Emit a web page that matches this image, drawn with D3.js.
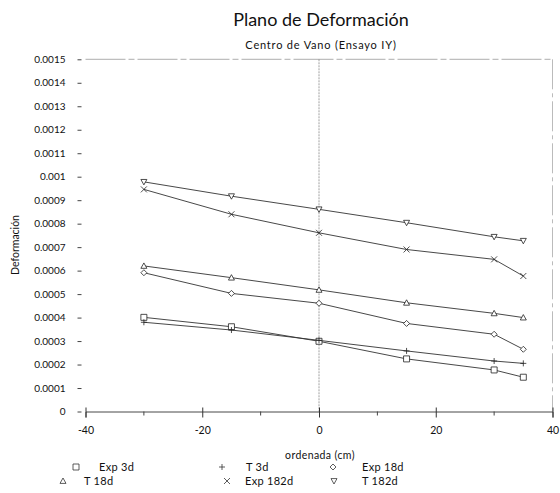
<!DOCTYPE html>
<html><head><meta charset="utf-8">
<script src="https://cdn.jsdelivr.net/npm/d3@7"></script>
<style>body{margin:0;background:#fff} text{font-family:Lato,"DejaVu Sans",sans-serif;fill:#111}</style>
</head><body>
<svg id="c" width="560" height="493"></svg>
<script>
// ---- data ----
const xValues = [-30, -15, 0, 15, 30, 35];
const seriesNames = ["Exp 3d", "T 3d", "Exp 18d", "T 18d", "Exp 182d", "T 182d"];
const exp3d   = [0.000401, 0.000361, 0.000299, 0.000224, 0.000177, 0.000146];
const t3d     = [0.000380, 0.000347, 0.000303, 0.000258, 0.000215, 0.000205];
const exp18d  = [0.000591, 0.000503, 0.000461, 0.000375, 0.000329, 0.000265];
const t18d    = [0.000620, 0.000570, 0.000518, 0.000463, 0.000418, 0.000400];
const exp182d = [0.000946, 0.000840, 0.000761, 0.000690, 0.000648, 0.000577];
const t182d   = [0.000978, 0.000917, 0.000861, 0.000804, 0.000744, 0.000727];
const markerTypes = ["square", "plus", "diamond", "triangle", "cross", "triangleDown"];
const yTicks = [0, 0.0001, 0.0002, 0.0003, 0.0004, 0.0005, 0.0006, 0.0007, 0.0008, 0.0009, 0.001, 0.0011, 0.0012, 0.0013, 0.0014, 0.0015];
const yTickLabels = ["0", "0.0001", "0.0002", "0.0003", "0.0004", "0.0005", "0.0006", "0.0007", "0.0008", "0.0009", "0.001", "0.0011", "0.0012", "0.0013", "0.0014", "0.0015"];
const xTicks = [-40, -20, 0, 20, 40];
const xTickLabels = ["-40", "-20", "0", "20", "40"];
const xMinorTicks = [-30, -10, 10, 30];
const title = "Plano de Deformación";
const subtitle = "Centro de Vano (Ensayo IY)";
const xLabel = "ordenada (cm)";
const yLabel = "Deformación";

const allSeries = [exp3d, t3d, exp18d, t18d, exp182d, t182d];

// ---- layout ----
const svg = d3.select("#c");
const x = d3.scaleLinear().domain([-40, 40]).range([85.5, 552.5]);
const y = d3.scaleLinear().domain([0, 0.0015]).range([411.5, 59.3]);

function marker(type, s) {
  const h = s / 2;
  switch (type) {
    case "square": return `M${-h},${-h}H${h}V${h}H${-h}Z`;
    case "plus": return `M${-h},0H${h}M0,${-h}V${h}`;
    case "diamond": return `M0,${-h}L${h},0L0,${h}L${-h},0Z`;
    case "triangle": return `M0,${-h}L${h},${h * 0.8}L${-h},${h * 0.8}Z`;
    case "triangleDown": return `M0,${h}L${h},${-h * 0.8}L${-h},${-h * 0.8}Z`;
    case "cross": return `M${-h},${-h}L${h},${h}M${-h},${h}L${h},${-h}`;
  }
}

// frame
svg.append("line").attr("x1", x(-40)).attr("x2", x(40)).attr("y1", y(0.0015)).attr("y2", y(0.0015))
  .attr("stroke", "#999").attr("stroke-width", 0.8).attr("stroke-dasharray", "40,3,6,3");
svg.append("line").attr("x1", x(40)).attr("x2", x(40)).attr("y1", y(0.0015)).attr("y2", y(0))
  .attr("stroke", "#aaa").attr("stroke-width", 0.8).attr("stroke-dasharray", "30,4,4,4");
svg.append("line").attr("x1", x(0)).attr("x2", x(0)).attr("y1", y(0.0015)).attr("y2", y(0))
  .attr("stroke", "#888").attr("stroke-width", 0.8).attr("stroke-dasharray", "2,1");

// x axis
const xAxis = d3.axisBottom(x).tickValues(xTicks).tickFormat((d, i) => xTickLabels[i]).tickSize(6).tickPadding(9);
const gx = svg.append("g").attr("transform", `translate(0,${y(0)})`).call(xAxis);
gx.select(".domain").attr("stroke", "#333").attr("stroke-width", 0.9);
gx.selectAll(".tick line").attr("stroke", "#333").attr("y1", -4).attr("y2", 6);
gx.selectAll(".tick text").attr("font-size", 10.5).attr("font-family", "Lato,'DejaVu Sans',sans-serif").attr("fill", "#111");
gx.selectAll(".minor").data(xMinorTicks).enter().append("line").attr("class", "minor")
  .attr("x1", d => x(d)).attr("x2", d => x(d)).attr("y1", 0).attr("y2", 4).attr("stroke", "#444");

// y axis (ticks only, left of plot)
const yAxis = d3.axisLeft(y).tickValues(yTicks).tickFormat((d, i) => yTickLabels[i]).tickSize(4).tickPadding(12);
const gy = svg.append("g").attr("transform", `translate(${x(-40) - 4},0)`).call(yAxis);
gy.select(".domain").remove();
gy.selectAll(".tick line").attr("stroke", "#444");
gy.selectAll(".tick text").attr("font-size", 10).attr("font-family", "Lato,'DejaVu Sans',sans-serif").attr("fill", "#111");

// series lines and markers
const line = d3.line().x((d, i) => x(xValues[i])).y(d => y(d));
allSeries.forEach((vals, si) => {
  svg.append("path").datum(vals).attr("d", line).attr("fill", "none")
    .attr("stroke", "#333").attr("stroke-width", 0.9);
  svg.selectAll(null).data(vals).enter().append("path")
    .attr("transform", (d, i) => `translate(${x(xValues[i])},${y(d)})`)
    .attr("d", marker(markerTypes[si], 6))
    .attr("fill", "#fff").attr("stroke", "#222").attr("stroke-width", 0.8);
});

// titles
svg.append("text").attr("x", 321).attr("y", 26).attr("text-anchor", "middle").attr("font-size", 18).text(title);
svg.append("text").attr("x", 321).attr("y", 49).attr("text-anchor", "middle").attr("font-size", 11).attr("letter-spacing", 0.8).text(subtitle);
svg.append("text").attr("x", 320).attr("y", 459).attr("text-anchor", "middle").attr("font-size", 10.5).attr("letter-spacing", 0.4).text(xLabel);
svg.append("text").attr("transform", "translate(19,245) rotate(-90)").attr("text-anchor", "middle").attr("font-size", 10.5).text(yLabel);

// legend
const legendPos = [[76, 471, 99], [222, 471, 246], [333, 471, 362], [63, 485, 84], [227, 485, 245], [334, 485, 362]];
seriesNames.forEach((name, i) => {
  const [mx, my, tx] = legendPos[i];
  svg.append("path").attr("transform", `translate(${mx},${my - 4})`).attr("d", marker(markerTypes[i], 6))
    .attr("fill", "#fff").attr("stroke", "#333").attr("stroke-width", 0.8);
  svg.append("text").attr("x", tx).attr("y", my).attr("font-size", 11).attr("letter-spacing", 0.3).text(name);
});
</script>
</body></html>
